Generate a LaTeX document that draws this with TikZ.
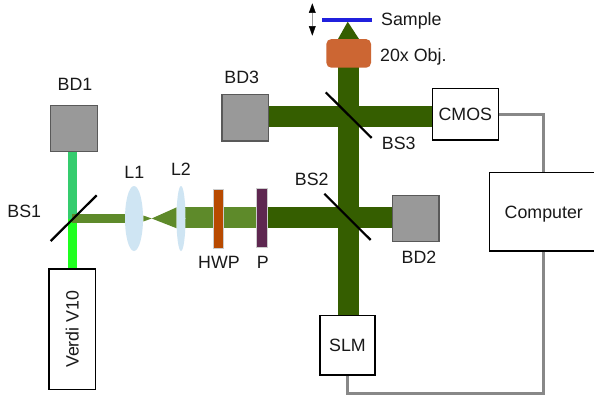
\documentclass[tikz,border=0pt]{standalone}
\usepackage{fontspec}
\setmainfont{Liberation Sans}
\usetikzlibrary{arrows.meta,backgrounds,shapes.geometric}
\definecolor{beamdark}{HTML}{355E00}
\definecolor{beammid}{HTML}{5E8A2A}
\definecolor{beamup}{HTML}{35CC6E}
\definecolor{beamlow}{HTML}{1FFF1F}
\definecolor{lensblue}{HTML}{CFE5F3}
\definecolor{dumpgray}{HTML}{999999}
\definecolor{wiregray}{HTML}{888888}
\definecolor{hwpcol}{RGB}{184,74,0}
\definecolor{polcol}{RGB}{94,39,80}
\definecolor{objcol}{RGB}{204,102,51}
\definecolor{samplecol}{RGB}{32,32,221}
\tikzset{
  txt/.style={font=\fontsize{17.8}{20}\selectfont,text=black!90,text height=12.8pt,text depth=0pt},
  lbl/.style={txt,inner sep=0pt},
  dump/.style={draw=black!65,line width=1.2pt,fill=dumpgray,minimum width=46.5pt,minimum height=46.5pt,inner sep=0pt},
  device/.style={draw=black,line width=1.3pt,fill=white,inner sep=0pt,txt},
  lens/.style={ellipse,fill=lensblue,inner sep=0pt,minimum height=65pt},
  plate/.style={minimum width=10.5pt,minimum height=59pt,inner sep=0pt,draw=white!80!black,line width=.3pt},
  splitter/.style={line width=2.2pt,black},
  beam/.style={line width=#1,beamdark},
  wire/.style={line width=3pt,wiregray},
  stagetip/.tip={Triangle[length=9.5pt,width=6.7pt,black]},
}
\begin{document}
\begin{tikzpicture}[x=1pt,y=-1pt]
\useasboundingbox (0,0) rectangle (594,396);
% reference points on the beams
\coordinate (bs1c) at (72.2,218.5);
\coordinate (bs2c) at (348.5,217);
\coordinate (bs3c) at (348.5,116.5);
\coordinate (bs1a) at (50.7,241);
\coordinate (bs1b) at (96.7,195.3);
\coordinate (bs2a) at (324.3,193.7);
\coordinate (bs2b) at (370.7,240);
\coordinate (bs3a) at (325.7,92.3);
\coordinate (bs3b) at (371.7,138);
\coordinate (waist) at (151.7,218.5);
\coordinate (stageup) at (312.3,3.3);
\coordinate (stagedown) at (312.3,35.7);
\coordinate (apex) at (347.7,21.7);
% components
\node[dump] (bd1) at (73.9,128.4) {};
\node[dump] (bd2) at (415.7,218.4) {};
\node[dump] (bd3) at (245.3,117.7) {};
\node[device,rotate=90,minimum width=120.3pt,minimum height=46.7pt] (verdi) at (72.3,329.2) {Verdi V10};
\node[lens,minimum width=18pt] (l1) at (134,218.5) {};
\node[lens,minimum width=9pt] (l2) at (181,218.5) {};
\node[plate,fill=hwpcol] (hwp) at (217.9,218.8) {};
\node[plate,fill=polcol] (pol) at (261.8,217.8) {};
\node[fill=objcol,rounded corners=5pt,minimum width=44.7pt,minimum height=28.7pt,inner sep=0pt] (obj) at (348.7,53.4) {};
\node[fill=samplecol,minimum width=50pt,minimum height=4.5pt,inner sep=0pt] (sample) at (346.7,20) {};
\node[device,minimum width=66pt,minimum height=51.7pt] (cmos) at (465.3,114.2) {CMOS};
\node[device,minimum width=55pt,minimum height=59.7pt] (slm) at (347.5,345.2) {SLM};
\node[device,minimum width=109pt,minimum height=78.3pt] (computer) at (543.8,211.8) {Computer};
% beams
\begin{scope}[on background layer]
  \fill[white] (0,0) rectangle (594,396);
  \draw[line width=9pt,beamup] (bd1.south -| bs1c) -- (bs1c);
  \draw[line width=9pt,beamlow] (bs1c) -- (verdi.east -| bs1c);
  \draw[line width=9pt,beammid] (bs1c) -- (l1.center);
  \fill[beammid] (143.3,215.5) -- (waist) -- (176.7,207.3) -- (176.7,228.3) -- (waist) -- (143.3,221.5) -- cycle;
  \draw[line width=21pt,beammid] (l2.center |- bs2c) -- (pol.center |- bs2c);
  \draw[beam=21pt] (pol.center |- bs2c) -- (bd2.west |- bs2c);
  \draw[beam=21pt] (bd3.east |- bs3c) -- (cmos.west |- bs3c);
  \draw[beam=21pt] (obj.center -| bs2c) -- (slm.north -| bs2c);
  \fill[beamdark] (apex) -- (338,39) -- (359,39) -- cycle;
\end{scope}
% beam splitters
\draw[splitter] (bs1a) -- (bs1b);
\draw[splitter] (bs2a) -- (bs2b);
\draw[splitter] (bs3a) -- (bs3b);
% stage arrow
\draw[line width=.5pt,black!40,stagetip-stagetip] (stageup) -- (stagedown);
% wires
\draw[wire] (cmos.east) -- (cmos.east -| computer.north) -- (computer.north);
\draw[wire] (computer.south) -- (computer.south |- 0,393) -- (slm.south |- 0,393) -- (slm.south);
% labels
\node[lbl] (tbd1) at (75,84) {BD1};
\node[lbl] (tbs1) at (24.3,210.7) {BS1};
\node[lbl] (tl1) at (134.3,172) {L1};
\node[lbl] (tl2) at (181,169) {L2};
\node[lbl] (thwp) at (219,262) {HWP};
\node[lbl] (tp) at (262.7,262) {P};
\node[lbl] (tbd3) at (241.7,77) {BD3};
\node[lbl,anchor=west] (tsample) at (381,19) {Sample};
\node[lbl,anchor=west] (tobj) at (380,55) {20x Obj.};
\node[lbl,anchor=west] (tbs3) at (381.7,142.7) {BS3};
\node[lbl] (tbs2) at (311.7,179) {BS2};
\node[lbl] (tbd2) at (419,256.7) {BD2};
\end{tikzpicture}
\end{document}
